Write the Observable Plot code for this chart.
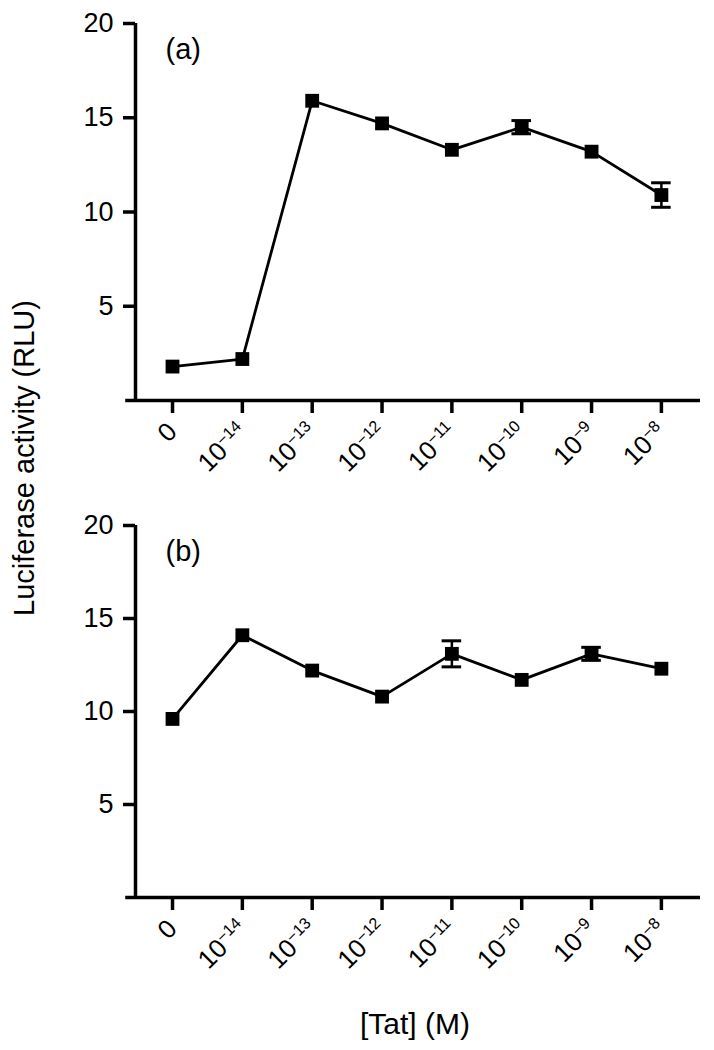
<!DOCTYPE html>
<html>
<head>
<meta charset="utf-8">
<script src="https://cdn.jsdelivr.net/npm/d3@7"></script>
<script src="https://cdn.jsdelivr.net/npm/@observablehq/plot@0.6"></script>
<style>
  html, body { margin: 0; padding: 0; background: #fff; }
  #wrap { position: relative; width: 714px; height: 1050px; background: #fff; font-family: "Liberation Sans", Arial, Helvetica, sans-serif; color: #000; overflow: hidden; }
  .panel { position: absolute; left: 0; }
  #ylab { position: absolute; left: 24px; top: 458px; transform: translate(-50%, -50%) rotate(-90deg); white-space: nowrap; font-size: 29px; line-height: 1; }
  #xlab { position: absolute; left: 415px; top: 1024px; transform: translate(-50%, -50%); white-space: nowrap; font-size: 30px; line-height: 1; }
  #wrap svg g[aria-label="y-axis tick label"] text { font-size: 27px !important; }
  #wrap svg g[aria-label="x-axis tick label"] text { font-size: 26px !important; }
  #wrap svg g[aria-label="text"] text { font-size: 29px !important; }
</style>
</head>
<body>
<div id="wrap">
  <div id="pa" class="panel" style="top:0px"></div>
  <div id="pb" class="panel" style="top:500px"></div>
  <div id="ylab">Luciferase activity (RLU)</div>
  <div id="xlab">[Tat] (M)</div>
</div>
<script>
// Categories (Tat concentration, M)
const tatLabels = ["0", "10^-14", "10^-13", "10^-12", "10^-11", "10^-10", "10^-9", "10^-8"];
// Panel (a) luciferase activity (RLU) and error (SEM)
const valuesA = [1.8, 2.2, 15.9, 14.7, 13.3, 14.5, 13.2, 10.9];
const errorsA = [0, 0, 0, 0, 0, 0.35, 0, 0.65];
// Panel (b)
const valuesB = [9.6, 14.1, 12.2, 10.8, 13.1, 11.7, 13.1, 12.3];
const errorsB = [0, 0, 0, 0, 0.7, 0, 0.35, 0];
const yTicks = [5, 10, 15, 20];
const panelLabels = ["(a)", "(b)"];

const FONT = '"Liberation Sans", Arial, Helvetica, sans-serif';

function makePanel(values, errors, tag, height, marginTop, marginBottom) {
  const data = values.map((v, i) => ({i, v, e: errors[i]}));
  const errData = data.filter(d => d.e > 0);
  const xmin = -0.53, xmax = 7.56;
  const plot = Plot.plot({
    width: 714,
    height,
    marginTop,
    marginBottom,
    marginLeft: 135,
    marginRight: 14,
    style: {fontFamily: FONT, color: "#000", background: "#fff", overflow: "visible"},
    x: {type: "linear", domain: [xmin, xmax]},
    y: {domain: [0, 20]},
    marks: [
      Plot.ruleY([0], {x1: -0.67, x2: xmax, strokeWidth: 3.5}),
      Plot.ruleX([xmin], {y1: 0, y2: 20, strokeWidth: 3.5}),
      Plot.axisY({ticks: yTicks, tickSize: 12, tickPadding: 10, fontSize: 27, strokeWidth: 3.5, label: null}),
      Plot.axisX({ticks: d3.range(tatLabels.length), tickFormat: i => tatLabels[i], tickSize: 13, tickPadding: 14, tickRotate: -45, fontSize: 26, strokeWidth: 3.5, label: null}),
      Plot.line(data, {x: "i", y: "v", strokeWidth: 2.8, stroke: "#000"}),
      Plot.ruleX(errData, {x: "i", y1: d => d.v - d.e, y2: d => d.v + d.e, strokeWidth: 2.5}),
      Plot.ruleY(errData, {y: d => d.v + d.e, x1: d => d.i - 0.14, x2: d => d.i + 0.14, strokeWidth: 3}),
      Plot.ruleY(errData, {y: d => d.v - d.e, x1: d => d.i - 0.14, x2: d => d.i + 0.14, strokeWidth: 3}),
      Plot.dot(data, {x: "i", y: "v", symbol: "square", r: 7.8, fill: "#000", stroke: "none"}),
      Plot.text([tag], {x: -0.1, y: 18.6, text: d => d, textAnchor: "start", lineAnchor: "middle", fontSize: 29, fill: "#000"})
    ]
  });
  const svg = d3.select(plot);
  // superscript exponents in x tick labels
  svg.selectAll('g[aria-label="x-axis tick label"] text').each(function() {
    const t = d3.select(this);
    const s = t.text();
    if (s.includes("^")) {
      const [base, exp] = s.split("^");
      t.text(null);
      t.append("tspan").text(base);
      t.append("tspan").attr("dy", "-0.55em").attr("font-size", "0.62em").text(exp.replace("-", "\u2212"));
    }
  });
  return plot;
}

document.getElementById("pa").appendChild(makePanel(valuesA, errorsA, panelLabels[0], 490, 23, 90));
document.getElementById("pb").appendChild(makePanel(valuesB, errorsB, panelLabels[1], 480, 25, 83));
</script>
</body>
</html>
